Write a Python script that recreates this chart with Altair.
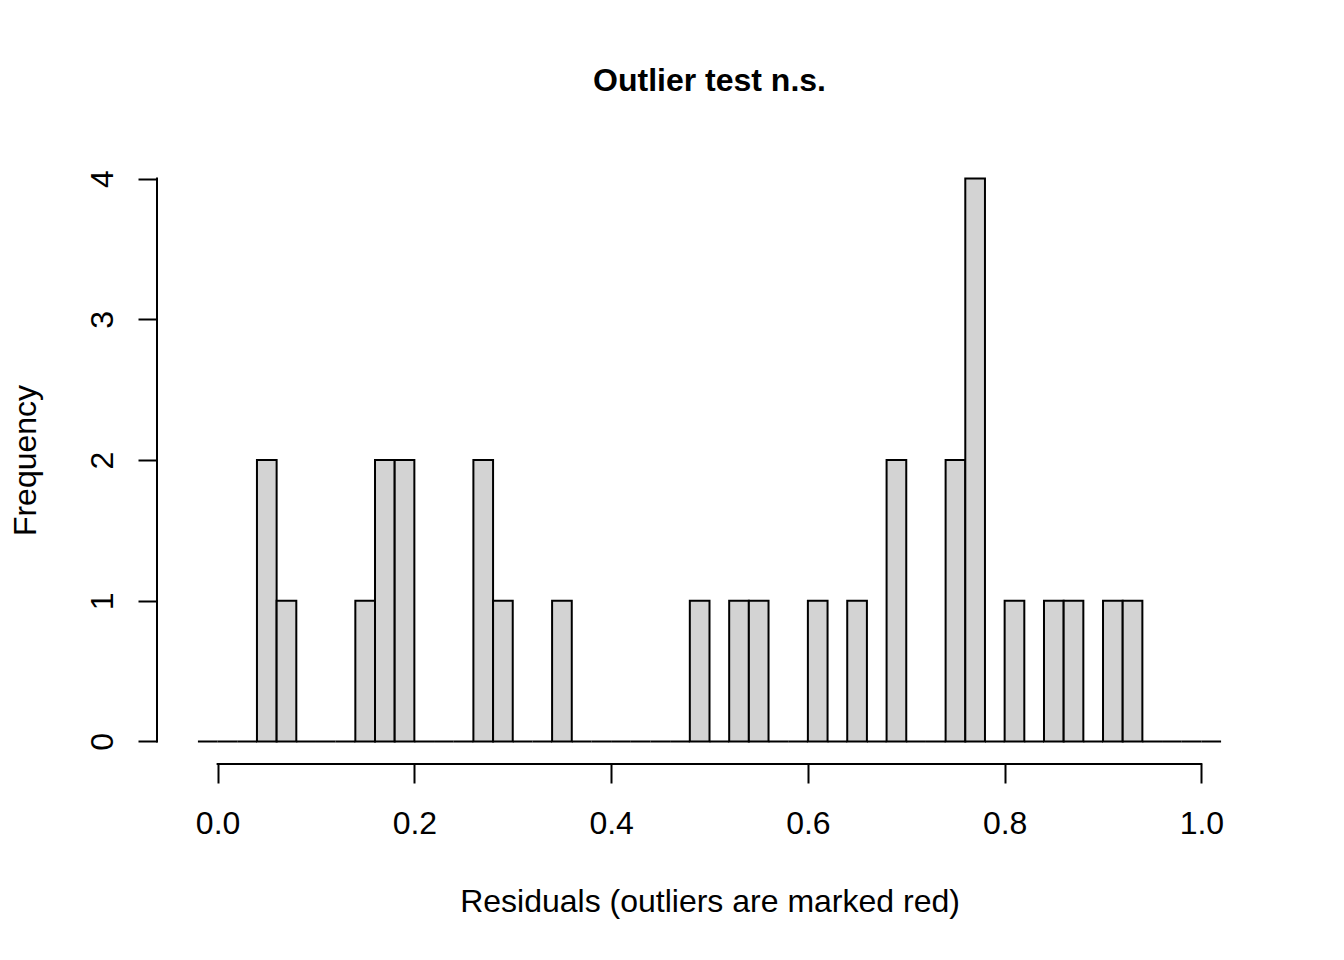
import altair as alt
import pandas as pd

# Histogram data (bin width 0.02, first bin starts at -0.02)
bin_width = 0.02
first_edge = -0.02
counts = [0, 0, 0, 2, 1, 0, 0, 0, 1, 2, 2, 0, 0, 0, 2, 1, 0, 0, 1,
          0, 0, 0, 0, 0, 0, 1, 0, 1, 1, 0, 0, 1, 0, 1, 0, 2, 0, 0,
          2, 4, 0, 1, 0, 1, 1, 0, 1, 1, 0, 0, 0, 0]
x_ticks = [0.0, 0.2, 0.4, 0.6, 0.8, 1.0]
y_ticks = [0, 1, 2, 3, 4]

title_text = "Outlier test n.s."
x_title = "Residuals (outliers are marked red)"
y_title = "Frequency"

starts = [round(first_edge + bin_width * i, 4) for i in range(len(counts))]
df = pd.DataFrame({
    "start": starts,
    "end": [round(s + bin_width, 4) for s in starts],
    "count": counts,
})

FONT = "Liberation Sans"
W, H = 1105, 608
x_dom = [-0.0616, 1.0616]
y_dom = [-0.16, 4.16]

xs = alt.Scale(domain=x_dom, nice=False, zero=False)
ys = alt.Scale(domain=y_dom, nice=False, zero=False)

bars = alt.Chart(df).mark_rect(fill="#D3D3D3", stroke="black", strokeWidth=2).encode(
    x=alt.X("start:Q", scale=xs, axis=alt.Axis(
        values=x_ticks, format=".1f", domain=False, grid=False,
        tickSize=19, tickWidth=2, tickColor="black",
        labelFont=FONT, labelFontSize=32, labelColor="black",
        labelBaseline="alphabetic", labelPadding=50, labelFlush=False,
        title=x_title, titleFont=FONT, titleFontSize=32, titleFontWeight="normal",
        titleColor="black", titleBaseline="alphabetic", titleY=147, titleX=W / 2,
        titleAlign="center",
    )),
    x2="end:Q",
    y=alt.Y("count:Q", scale=ys, axis=alt.Axis(
        values=y_ticks, format="d", domain=False, grid=False,
        tickSize=19, tickWidth=2, tickColor="black",
        labelFont=FONT, labelFontSize=32, labelColor="black",
        labelAngle=270, labelAlign="center", labelBaseline="alphabetic",
        labelPadding=26, labelFlush=False,
        title=y_title, titleFont=FONT, titleFontSize=32, titleFontWeight="normal",
        titleColor="black", titleAngle=270, titleAlign="center",
        titleBaseline="alphabetic", titleX=-122, titleY=H / 2,
    )),
    y2=alt.datum(0),
)

x_axis_line = alt.Chart(pd.DataFrame({"a": [x_ticks[0]], "b": [x_ticks[-1]]})).mark_rule(
    color="black", strokeWidth=2, strokeCap="square"
).encode(
    x=alt.X("a:Q", scale=xs),
    x2="b:Q",
    y=alt.value(H),
)

y_axis_line = alt.Chart(pd.DataFrame({"a": [y_ticks[0]], "b": [y_ticks[-1]]})).mark_rule(
    color="black", strokeWidth=2, strokeCap="square"
).encode(
    y=alt.Y("a:Q", scale=ys),
    y2="b:Q",
    x=alt.value(0),
)

chart = alt.layer(bars, x_axis_line, y_axis_line).properties(
    width=W,
    height=H,
    title=alt.TitleParams(
        text=title_text, font=FONT, fontSize=32, fontWeight="bold", color="black",
        anchor="middle", baseline="alphabetic", offset=33, frame="group",
    ),
    autosize=alt.AutoSizeParams(type="none"),
    padding={"left": 149, "top": 148, "right": 70, "bottom": 176},
).configure(
    background="white",
    view=alt.ViewConfig(strokeWidth=0, strokeOpacity=0),
)

chart.save("out.html", embed_options={"renderer": "svg", "actions": False})
